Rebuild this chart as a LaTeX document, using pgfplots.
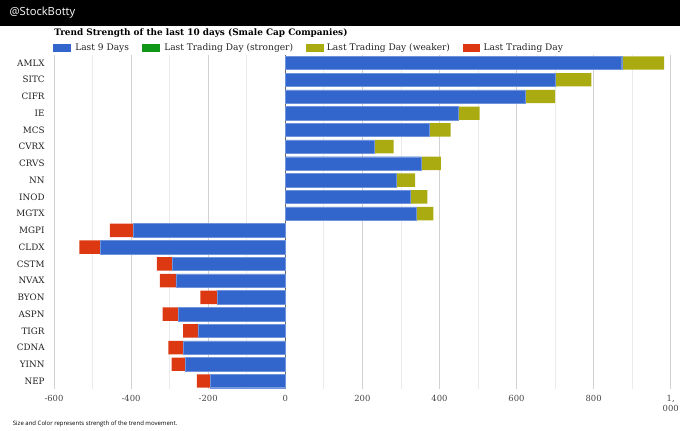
\documentclass[border=0pt]{standalone}
\usepackage{pgfplots}
\pgfplotsset{compat=1.18}
\usepackage{fontspec}
\setmainfont{DejaVu Serif}
\newfontfamily\hdr{Open Sans}
\definecolor{cblue}{HTML}{3366CC}
\definecolor{cgreen}{HTML}{109618}
\definecolor{colive}{HTML}{AAAA11}
\definecolor{cred}{HTML}{DC3912}
\definecolor{tickgray}{HTML}{444444}
\definecolor{legtext}{HTML}{222222}
\begin{document}
\begin{tikzpicture}
\useasboundingbox (0,0) rectangle (510pt,322.5pt);
\fill[black] (0,303pt) rectangle (510pt,322.5pt);
\node[anchor=west,text=white,inner sep=0pt] at (7pt,312.75pt) {\hdr\fontsize{8.4}{10}\selectfont @StockBotty};
\node[anchor=base west,inner sep=0pt] at (40.5pt,296.25pt) {\fontsize{6.68}{8}\selectfont\bfseries Trend Strength of the last 10 days (Smale Cap Companies)};
% legend
\fill[cblue]  (39.75pt,289.5pt) rectangle (53.25pt,283.2pt);
\fill[cgreen] (106.5pt,289.5pt) rectangle (120pt,283.2pt);
\fill[colive] (229.5pt,289.5pt) rectangle (243pt,283.2pt);
\fill[cred]   (347pt,289.5pt) rectangle (360pt,283.2pt);
\node[anchor=base west,inner sep=0pt,text=legtext] at (56.25pt,285pt) {\fontsize{6.8}{8}\selectfont Last 9 Days};
\node[anchor=base west,inner sep=0pt,text=legtext] at (123pt,285pt) {\fontsize{6.8}{8}\selectfont Last Trading Day (stronger)};
\node[anchor=base west,inner sep=0pt,text=legtext] at (245pt,285pt) {\fontsize{6.8}{8}\selectfont Last Trading Day (weaker)};
\node[anchor=base west,inner sep=0pt,text=legtext] at (362.5pt,285pt) {\fontsize{6.8}{8}\selectfont Last Trading Day};
\begin{axis}[
  at={(40.5pt,30.45pt)}, anchor=south west,
  scale only axis, width=462.5pt, height=251.1pt,
  xbar stacked, bar width=0.8,
  xmin=-600, xmax=1000, ymin=-0.5, ymax=19.5,
  y dir=reverse,
  ytick={0,...,19},
  yticklabels={AMLX,SITC,CIFR,IE,MCS,CVRX,CRVS,NN,INOD,MGTX,MGPI,CLDX,CSTM,NVAX,BYON,ASPN,TIGR,CDNA,YINN,NEP},
  xtick={-600,-400,-200,0,200,400,600,800,1000},
  xticklabels={-600,-400,-200,0,200,400,600,800,{1,\\000}},
  minor xtick={-500,-300,-100,100,300,500,700,900},
  xmajorgrids, xminorgrids,
  major grid style={color=black!18, line width=0.5pt},
  minor grid style={color=black!8, line width=0.5pt},
  axis line style={draw=none},
  tick style={draw=none},
  major tick length=0pt, minor tick length=0pt,
  yticklabel style={font=\fontsize{6.6}{7}\selectfont, text=legtext, xshift=-3.5pt},
  xticklabel style={font=\fontsize{6.3}{7.2}\selectfont, text=tickgray, align=center, yshift=-1pt},
  scaled x ticks=false,
  extra x ticks={0}, extra x tick labels={},
  extra x tick style={grid=major, major grid style={color=black!60, line width=0.6pt}},
  clip=false,
]
\addplot[fill=cblue, draw=cblue!70!white, line width=0.3pt] coordinates {
(873,0) (700,1) (623,2) (450,3) (374,4) (231,5) (353,6) (287,7) (324,8) (340,9)
(-394,10) (-480,11) (-293,12) (-284,13) (-177,14) (-277,15) (-227,16) (-264,17) (-259,18) (-194,19)};
\addplot[fill=colive, draw=none] coordinates {
(110,0) (94,1) (77,2) (54,3) (55,4) (50,5) (51,6) (50,7) (45,8) (44,9)
(0,10) (0,11) (0,12) (0,13) (0,14) (0,15) (0,16) (0,17) (0,18) (0,19)};
\addplot[fill=cred, draw=none] coordinates {
(0,0) (0,1) (0,2) (0,3) (0,4) (0,5) (0,6) (0,7) (0,8) (0,9)
(-61,10) (-54,11) (-40,12) (-41,13) (-43,14) (-41,15) (-38,16) (-39,17) (-36,18) (-35,19)};
\end{axis}
\node[anchor=west,inner sep=0pt] at (9.5pt,4.7pt) {\hdr\fontsize{4.5}{5}\selectfont Size and Color represents strength of the trend movement.};
\end{tikzpicture}
\end{document}
